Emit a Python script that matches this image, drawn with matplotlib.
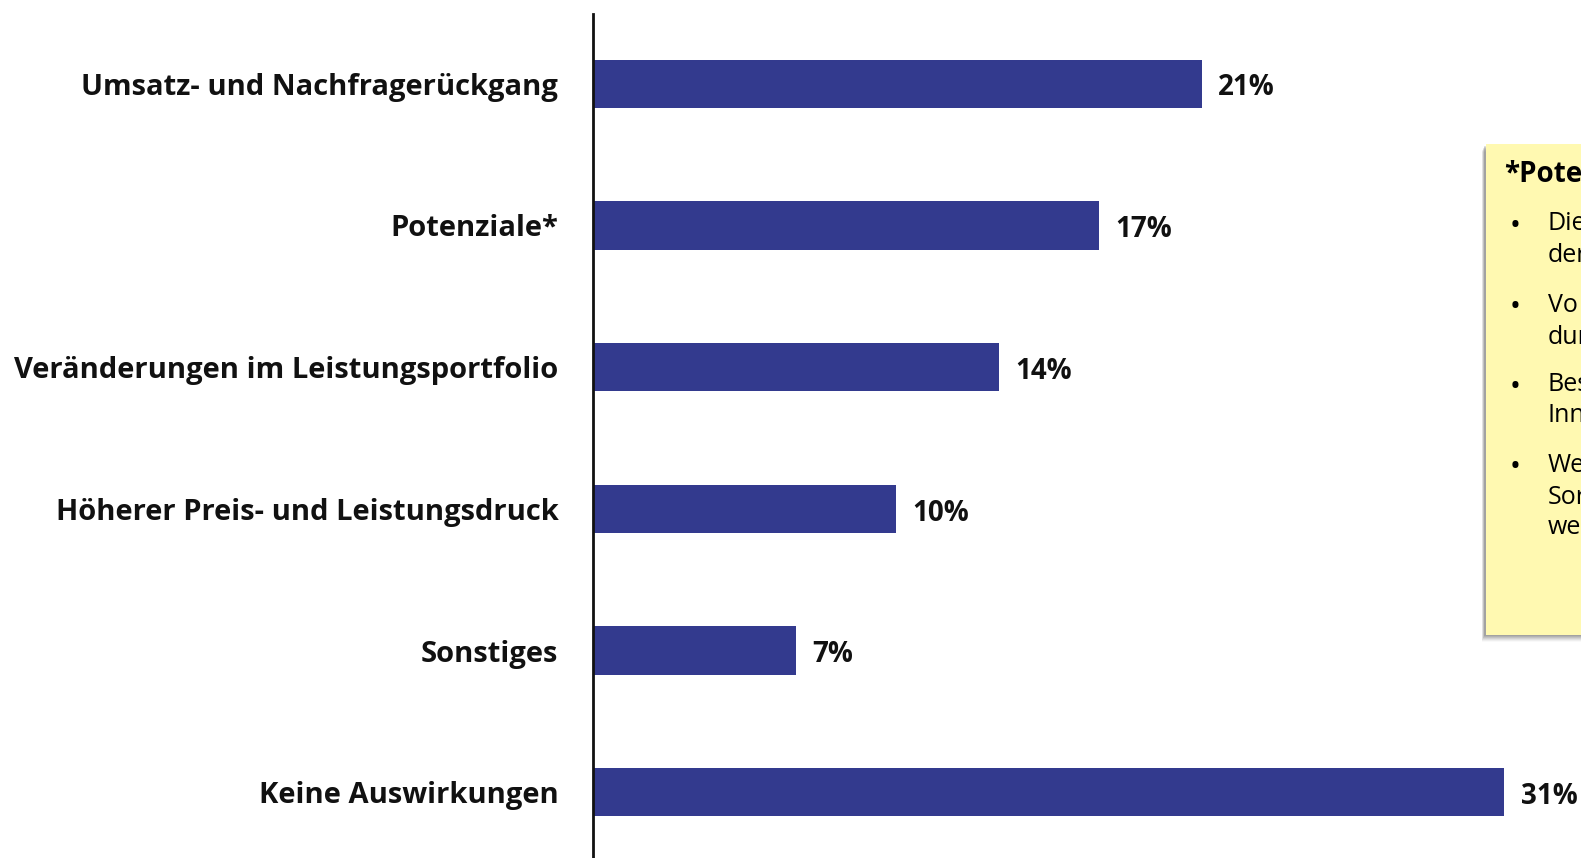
import matplotlib.pyplot as plt
from matplotlib.patches import Rectangle

# data
categories = ["Umsatz- und Nachfragerückgang", "Potenziale*",
              "Veränderungen im Leistungsportfolio",
              "Höherer Preis- und Leistungsdruck", "Sonstiges",
              "Keine Auswirkungen"]
values = [20.7, 17.2, 13.8, 10.3, 6.9, 31.0]
value_labels = ["21%", "17%", "14%", "10%", "7%", "31%"]

# note box on the right (cut off at the edge in the original)
note_title = "*Pote"
note_items = [["Die", "der"], ["Vo", "dur"], ["Bes", "Inn"], ["We", "Sor", "we"]]

bar_color = "#333A8E"
font = ["Open Sans", "DejaVu Sans"]

W, H = 1581, 858
fig = plt.figure(figsize=(W / 100, H / 100), dpi=100)
ax = fig.add_axes([593 / W, 0, 1 - 593 / W, 844 / H])

y = list(range(len(categories)))
ax.barh(y, values, height=0.34, color=bar_color)
ax.set_xlim(0, 988 / 29.4)
ax.set_ylim(5.464, -0.492)

for yi, v, lab in zip(y, values, value_labels):
    ax.text(v + 0.55, yi + 0.03, lab, va="center", ha="left",
            fontsize=20, fontweight="bold", family=font, color="#111111")

ax.set_yticks(y)
ax.set_yticklabels(categories, fontsize=21, fontweight="bold", family=font, color="#111111")
ax.tick_params(axis="y", length=0, pad=25)
ax.set_xticks([])
for s in ["top", "right", "bottom"]:
    ax.spines[s].set_visible(False)
ax.spines["left"].set_linewidth(2)
ax.spines["left"].set_color("#111111")

# yellow note box with a soft shadow below
def fx(px):
    return px / W

def fy(py):
    return 1 - py / H

for k in range(7):
    sh = Rectangle((fx(1484 - k * 0.4), fy(636 + k)), fx(200), 490 / H,
                   transform=fig.transFigure, color="#707070",
                   alpha=0.22 - k * 0.03, lw=0, zorder=1)
    fig.patches.append(sh)
box = Rectangle((fx(1486), fy(635)), fx(200), (635 - 144) / H,
                transform=fig.transFigure, color="#FFF9B1", lw=0, zorder=2)
fig.patches.append(box)

fig.text(fx(1504), fy(174), note_title, fontsize=20, fontweight="bold",
         family=font, va="center", ha="left", zorder=3)
line_y = [[224, 256], [305, 337], [385, 416], [465, 497, 528]]
for item, ys in zip(note_items, line_y):
    fig.text(fx(1510), fy(ys[0] + 2), "•", fontsize=21, family=font,
             va="center", ha="left", zorder=3)
    for txt, py in zip(item, ys):
        fig.text(fx(1548), fy(py), txt, fontsize=18, family=font,
                 va="center", ha="left", zorder=3)

fig.savefig("out.png", dpi=100)
